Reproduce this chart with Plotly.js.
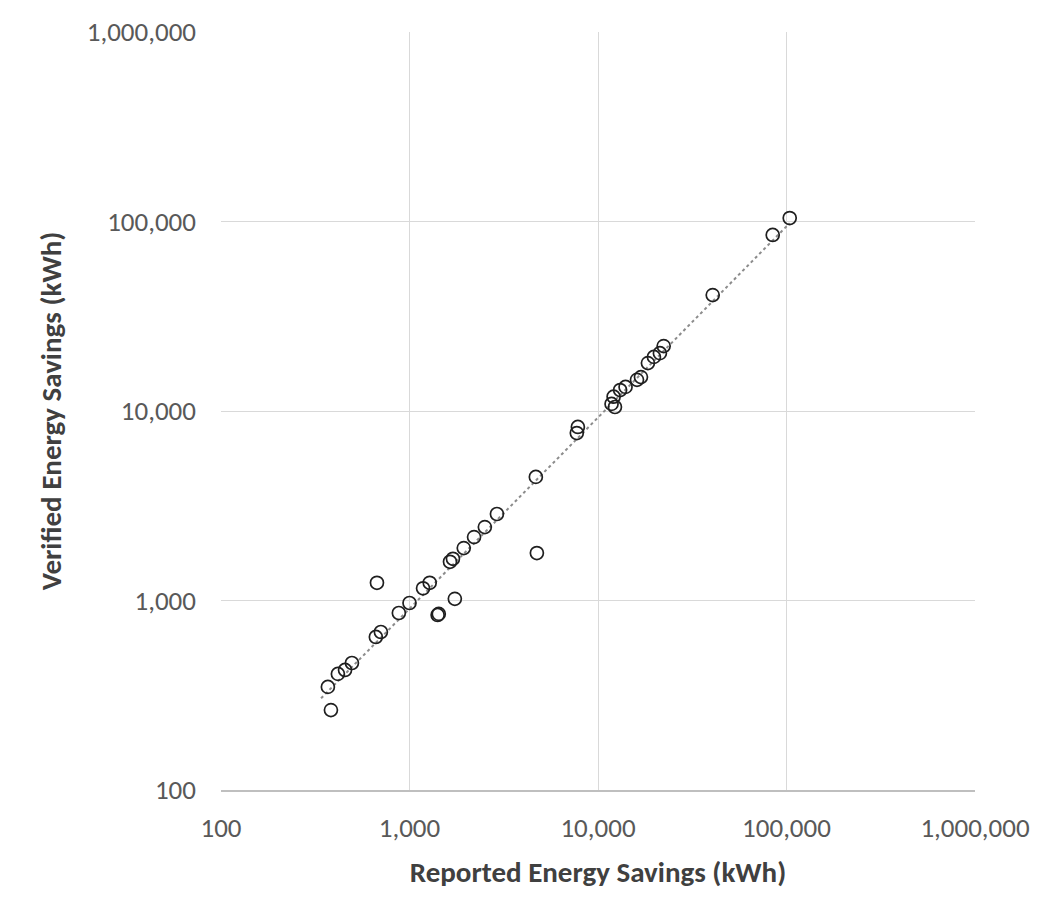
<!DOCTYPE html>
<html>
<head>
<meta charset="utf-8">
<script src="https://cdn.plot.ly/plotly-3.0.1.min.js"></script>
<style>
  html, body { margin: 0; padding: 0; background: #ffffff; }
  #chart { width: 1049px; height: 919px; }
</style>
</head>
<body>
<div id="chart"></div>
<script>
// Reported vs verified energy savings (kWh)
const reported = [104000, 84500, 40600, 22300, 21300, 19800, 18400, 16900, 16100, 14000,
                  13100, 12100, 11800, 12300, 7820, 7720, 4740, 4680, 2910, 2510,
                  2200, 1940, 1700, 1640, 1740, 1410, 1430, 1280, 1180, 1000,
                  878, 672, 705, 663, 495, 455, 417, 369, 383];
const verified = [104300, 84900, 40900, 22000, 20200, 19300, 17900, 15100, 14600, 13400,
                  12900, 11900, 10900, 10500, 8240, 7650, 1780, 4490, 2860, 2440,
                  2160, 1890, 1660, 1600, 1020, 839, 850, 1240, 1160, 970,
                  859, 1240, 682, 642, 468, 430, 410, 350, 264];

const tickVals = [100, 1000, 10000, 100000, 1000000];
const tickText = ["100", "1,000", "10,000", "100,000", "1,000,000"];

// Power trendline fitted in log space
const lx = reported.map(Math.log10), ly = verified.map(Math.log10);
const n = lx.length;
const mx = lx.reduce((a, b) => a + b, 0) / n, my = ly.reduce((a, b) => a + b, 0) / n;
let sxy = 0, sxx = 0;
for (let i = 0; i < n; i++) { sxy += (lx[i] - mx) * (ly[i] - my); sxx += (lx[i] - mx) ** 2; }
const slope = sxy / sxx, icpt = my - slope * mx;
const xMin = Math.min(...reported), xMax = Math.max(...reported);
const trendX = [xMin * 0.92, xMax];
const trendY = trendX.map(v => Math.pow(10, icpt + slope * Math.log10(v)));

const font = "Calibri, Carlito, 'Liberation Sans Narrow', 'Open Sans', sans-serif";

const traces = [
  {
    x: trendX, y: trendY, type: 'scatter', mode: 'lines',
    line: { color: '#8c8c8c', width: 2, dash: 'dot' },
    hoverinfo: 'skip', showlegend: false
  },
  {
    x: reported, y: verified, type: 'scatter', mode: 'markers',
    marker: { symbol: 'circle-open', size: 13, color: '#1f1f1f', line: { width: 1.7, color: '#1f1f1f' } },
    showlegend: false
  }
];

const axisCommon = {
  type: 'log',
  range: [2, 6],
  tickvals: tickVals,
  ticktext: tickText,
  showgrid: true,
  gridcolor: '#d9d9d9',
  gridwidth: 1,
  zeroline: false,
  ticks: '',
  tickfont: { family: font, size: 27, color: '#595959' }
};

const layout = {
  width: 1049, height: 919,
  margin: { l: 221, r: 74, t: 32, b: 129 },
  paper_bgcolor: '#ffffff',
  plot_bgcolor: '#ffffff',
  showlegend: false,
  xaxis: Object.assign({}, axisCommon, {
    showline: true, linecolor: '#bfbfbf', linewidth: 1.5, mirror: false,
    ticklabelstandoff: 13,
    title: { text: '<b>Reported Energy Savings (kWh)</b>', standoff: 19,
             font: { family: font, size: 29, color: '#404040' } }
  }),
  yaxis: Object.assign({}, axisCommon, {
    showline: false,
    ticklabelstandoff: 24,
    title: { text: '<b>Verified Energy Savings (kWh)</b>', standoff: 16,
             font: { family: font, size: 29, color: '#404040' } }
  })
};

Plotly.newPlot('chart', traces, layout, { displayModeBar: false, staticPlot: true });
</script>
</body>
</html>
